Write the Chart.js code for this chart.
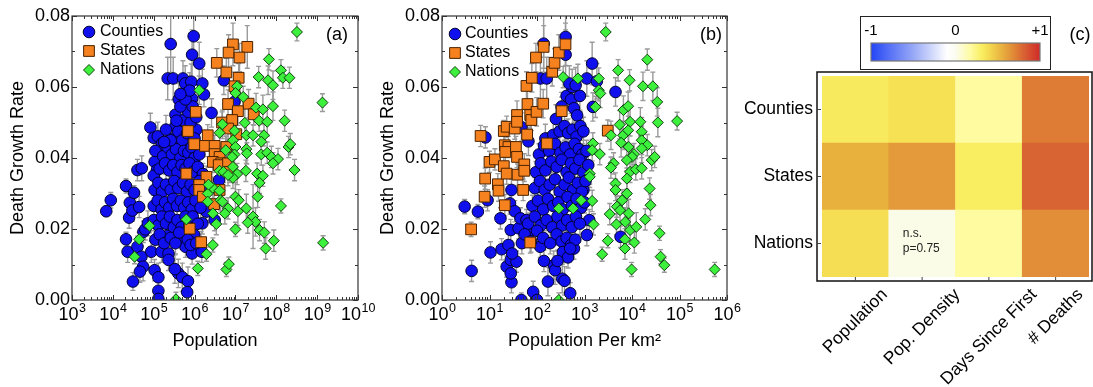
<!DOCTYPE html>
<html>
<head>
<meta charset="utf-8">
<script src="https://cdn.jsdelivr.net/npm/chart.js@4.4.0/dist/chart.umd.min.js"></script>
<style>
  body { margin: 0; background: #fff; width: 1093px; height: 387px; overflow: hidden; position: relative; }
  canvas { position: absolute; top: 0; }
  #cbarBox { position: absolute; left: 860px; top: 16px; width: 189px; height: 52px; border: 1px solid #222; }
</style>
</head>
<body>
<canvas id="chartPop" width="380" height="387" style="left:0"></canvas>
<canvas id="chartDens" width="375" height="387" style="left:370px"></canvas>
<canvas id="chartCorr" width="353" height="387" style="left:740px"></canvas>
<div id="cbarBox"><canvas id="cbar" width="189" height="52" style="left:0"></canvas></div>
<script>
// ---- data: [x, death growth rate, error] ----
// panel (a): population
var countiesPop = [
  [6.9e3,0.0250,0.0015],[8.9e3,0.0281,0.0022],[2.1e4,0.0321,0.002],[2.6e4,0.0274,0.0025],[3.3e4,0.0302,0.002],
  [2.5e4,0.0232,0.003],[3.0e4,0.0252,0.003],[4.4e4,0.0262,0.003],[4.0e4,0.0366,0.003],[5.1e4,0.0371,0.0035],
  [2.1e4,0.0171,0.002],[2.3e4,0.0136,0.003],[3.1e4,0.0052,0.0025],[4.0e4,0.0150,0.003],[5.0e4,0.0122,0.003],
  [5.5e4,0.0094,0.004],[4.6e4,0.0080,0.003],[5.6e4,0.0192,0.003],[6.2e4,0.0199,0.003],[7.2e4,0.0216,0.0035],
  [8.7e4,0.0136,0.003],[8.3e4,0.0486,0.004],[1.0e5,0.0457,0.004],[1.26e5,0.0461,0.004],[1.6e5,0.0441,0.0035],
  [1.05e5,0.0389,0.003],[1.2e5,0.0366,0.003],[1.45e5,0.0417,0.003],[1.05e5,0.0084,0.003],[1.3e5,0.0064,0.004],
  [1.3e5,0.0026,0.003],[1.3e5,0.0003,0.002],[1.55e5,0.0136,0.003],[2.3e5,0.0131,0.003],[2.3e5,0.0113,0.003],
  [2.2e5,0.0181,0.003],
  [2.6e5,0.0721,0.008],[2.2e5,0.0624,0.006],[3.0e5,0.0624,0.006],[3.4e5,0.0490,0.004],[3.4e5,0.0522,0.0045],
  [4.1e5,0.0565,0.0045],[5.2e5,0.0624,0.005],[5.9e5,0.0610,0.005],[6.6e5,0.0584,0.004],[8.3e5,0.0615,0.005],
  [8.7e5,0.0567,0.004],[9.5e5,0.0743,0.008],[8.7e5,0.0691,0.007],[1.3e6,0.0666,0.006],[1.55e6,0.0610,0.004],
  [1.7e6,0.0579,0.0035],[2.6e6,0.0527,0.004],[5.2e6,0.0619,0.004],[9.5e6,0.0558,0.004],[1.1e6,0.0480,0.004],
  [5.2e5,0.0506,0.004],
  [4.0e5,0.0075,0.004],[5.0e5,0.0064,0.004],[6.9e5,0.0053,0.004],[6.6e5,0.0022,0.003],[3.3e5,0.0087,0.004],
  [4.8e5,0.0174,0.003],[6.0e5,0.0150,0.003],[8.7e5,0.0131,0.003],[9.8e5,0.0183,0.003],[1.55e6,0.0216,0.003],
  [1.5e6,0.0136,0.003],[1.95e6,0.0249,0.003],[3.1e6,0.0225,0.003],[4.0e6,0.0338,0.003],
  [3.0e5,0.0455,0.004],[4.0e5,0.0475,0.004],[5.0e5,0.0450,0.004],[6.5e5,0.0470,0.004],[8.0e5,0.0500,0.004],
  [1.0e6,0.0455,0.004],[7.0e5,0.0530,0.004],[4.5e5,0.0545,0.004],[1.2e6,0.0435,0.003],[3.6e5,0.0505,0.004],
  [1.1e5,0.0420,0.003],[1.7e5,0.0405,0.003],[2.2e5,0.0430,0.003],[2.8e5,0.0410,0.003],[3.5e5,0.0425,0.003],
  [4.5e5,0.0400,0.003],[5.5e5,0.0420,0.003],[7.0e5,0.0415,0.003],[8.5e5,0.0430,0.003],[1.0e6,0.0400,0.003],
  [1.3e6,0.0410,0.003],
  [1.0e5,0.0350,0.003],[1.4e5,0.0370,0.003],[1.9e5,0.0385,0.003],[2.4e5,0.0365,0.003],[3.0e5,0.0380,0.003],
  [3.8e5,0.0360,0.003],[4.8e5,0.0380,0.003],[6.0e5,0.0370,0.003],[7.5e5,0.0385,0.003],[9.0e5,0.0360,0.003],
  [1.2e6,0.0375,0.003],[1.6e6,0.0355,0.003],
  [1.05e5,0.0310,0.003],[1.3e5,0.0330,0.003],[1.6e5,0.0305,0.003],[2.0e5,0.0325,0.003],[2.6e5,0.0310,0.003],
  [3.2e5,0.0335,0.003],[4.0e5,0.0315,0.003],[5.2e5,0.0330,0.003],[6.5e5,0.0305,0.003],[8.0e5,0.0325,0.003],
  [1.0e6,0.0310,0.003],[1.3e6,0.0335,0.003],[1.7e6,0.0305,0.003],
  [1.0e5,0.0265,0.003],[1.25e5,0.0280,0.003],[1.55e5,0.0255,0.003],[1.9e5,0.0275,0.003],[2.4e5,0.0260,0.003],
  [3.0e5,0.0285,0.003],[3.7e5,0.0265,0.003],[4.6e5,0.0280,0.003],[5.6e5,0.0260,0.003],[7.0e5,0.0275,0.003],
  [8.5e5,0.0255,0.003],[1.05e6,0.0280,0.003],[1.4e6,0.0260,0.003],
  [1.0e5,0.0225,0.003],[1.3e5,0.0210,0.003],[1.6e5,0.0235,0.003],[2.0e5,0.0215,0.003],[2.5e5,0.0235,0.003],
  [3.1e5,0.0205,0.003],[3.8e5,0.0225,0.003],[4.8e5,0.0205,0.003],[6.0e5,0.0235,0.003],[7.5e5,0.0210,0.003],
  [9.0e5,0.0235,0.003],[1.2e6,0.0215,0.003],
  [1.1e5,0.0170,0.003],[1.4e5,0.0185,0.003],[1.8e5,0.0160,0.003],[2.6e5,0.0175,0.003],[3.4e5,0.0160,0.003],
  [4.2e5,0.0190,0.003],[6.8e5,0.0170,0.003],[8.0e5,0.0155,0.003],[1.1e6,0.0160,0.003],
  [2.0e5,0.0480,0.004],[2.6e5,0.0450,0.004],[1.8e5,0.0445,0.004],[9.0e5,0.0545,0.004],[1.1e6,0.0515,0.004],
  [6.0e5,0.0565,0.004],[7.6e5,0.0590,0.005],[4.5e5,0.0580,0.004]
];
var statesPop = [
  [8.7e6,0.0720,0.006],[6.8e6,0.0697,0.005],[1.95e7,0.0713,0.006],[1.26e7,0.0683,0.004],[3.5e6,0.0668,0.004],
  [6.0e6,0.0641,0.004],[1.2e7,0.0626,0.004],[9.5e6,0.0602,0.004],[6.6e6,0.0552,0.004],[2.1e7,0.0553,0.004],
  [1.15e7,0.0532,0.004],[2.8e7,0.0523,0.003],[1.07e6,0.0530,0.004],[4.7e6,0.0500,0.003],[8.3e6,0.0507,0.003],
  [6.6e6,0.0483,0.003],[6.9e5,0.0476,0.004],[2.1e6,0.0464,0.003],[1.05e7,0.0467,0.003],[9.8e5,0.0439,0.003],
  [1.8e6,0.0434,0.003],[3.1e6,0.0434,0.003],[6.0e6,0.0431,0.003],[3.1e6,0.0411,0.003],[4.1e6,0.0403,0.003],
  [2.8e6,0.0389,0.003],[4.5e6,0.0385,0.003],[3.9e6,0.0380,0.003],[6.6e6,0.0385,0.003],[6.3e5,0.0356,0.003],
  [1.95e6,0.0347,0.003],[1.3e6,0.0324,0.003],[1.3e6,0.0310,0.003],[1.6e6,0.0291,0.003],[4.1e6,0.0310,0.003],
  [3.0e6,0.0270,0.003],[7.6e5,0.0201,0.003],[1.45e6,0.0163,0.003],[7.2e6,0.0361,0.003]
];
var nationsPop = [
  [3.2e8,0.0755,0.0025],[6.6e7,0.0678,0.003],[1.3e8,0.0647,0.003],[3.7e7,0.0628,0.003],[6.3e7,0.0619,0.004],
  [8.3e7,0.0605,0.004],[1.45e8,0.0626,0.003],[2.1e8,0.0626,0.003],[1.3e6,0.0591,0.004],[1.1e7,0.0602,0.004],
  [1.0e7,0.0583,0.003],[1.55e7,0.0572,0.003],[1.35e9,0.0556,0.0025],[3.2e7,0.0542,0.004],[4.7e7,0.0537,0.004],
  [8.3e7,0.0546,0.004],[4.8e6,0.0495,0.004],[1.7e7,0.0499,0.004],[3.8e7,0.0505,0.003],[6.0e7,0.0502,0.004],
  [1.6e8,0.0505,0.003],[9.5e6,0.0477,0.004],[4.1e6,0.0471,0.004],[1.85e7,0.0464,0.004],[2.7e7,0.0464,0.003],
  [5.0e7,0.0464,0.003],[8.7e6,0.0450,0.003],[4.3e7,0.0446,0.003],[1.0e7,0.0431,0.003],[1.85e7,0.0425,0.004],
  [2.0e8,0.0431,0.003],[2.2e8,0.0439,0.003],[5.8e6,0.0422,0.004],[1.9e7,0.0413,0.003],[4.3e7,0.0410,0.003],
  [6.0e7,0.0415,0.003],[7.6e7,0.0403,0.003],[1.1e8,0.0397,0.003],[8.3e7,0.0385,0.003],[2.8e8,0.0366,0.003],
  [9.5e6,0.0410,0.003],[8.3e6,0.0403,0.003],[8.7e6,0.0375,0.003],[1.1e7,0.0355,0.003],[1.8e7,0.0364,0.003],
  [3.4e7,0.0356,0.003],[4.7e7,0.0350,0.003],[8.7e6,0.0344,0.003],[4.1e6,0.0364,0.003],[5.1e6,0.0361,0.003],
  [6.6e6,0.0352,0.003],[3.9e7,0.0330,0.003],[2.1e6,0.0300,0.003],[2.8e6,0.0316,0.003],[4.1e6,0.0308,0.003],
  [4.3e6,0.0281,0.003],[2.1e6,0.0277,0.003],[4.8e6,0.0277,0.003],[3.5e7,0.0291,0.003],[1.0e7,0.0291,0.004],
  [1.2e7,0.0281,0.003],[1.3e8,0.0265,0.002],[1.85e7,0.0258,0.004],[6.6e6,0.0258,0.003],[1.15e7,0.0250,0.004],
  [2.8e6,0.0244,0.003],[5.5e6,0.0244,0.003],[3.4e6,0.0214,0.003],[2.7e7,0.0235,0.009],[3.1e7,0.0220,0.004],
  [2.0e7,0.0218,0.003],[1.0e7,0.0199,0.002],[3.9e7,0.0197,0.003],[5.1e7,0.0190,0.003],[8.7e7,0.0167,0.003],
  [5.5e7,0.0145,0.003],[1.4e9,0.0161,0.002],[2.8e6,0.0155,0.002],[1.95e6,0.0129,0.002],[1.2e6,0.0089,0.002],
  [6.0e6,0.0086,0.002],[6.9e6,0.0101,0.002],[6.3e5,0.0227,0.002],[7.9e4,0.0209,0.002],[4.4e4,0.0171,0.002],
  [3.4e4,0.0122,0.002],[3.5e5,0.0002,0.002],[2.2e6,0.0325,0.003]
];
// panel (b): population per km2
var countiesDens = [
  [3.0,0.0263,0.002],[5.7,0.0249,0.002],[8.2,0.0458,0.003],[9.1,0.0281,0.003],[4.2,0.0082,0.003],
  [10.5,0.0134,0.003],[17,0.0230,0.003],[18,0.0143,0.003],[23,0.0094,0.003],[29,0.0050,0.003],
  [28,0.0113,0.003],[37,0.0108,0.003],[47,0.0000,0.002],[83,0.0023,0.003],[100,0.0000,0.002],
  [170,0.0052,0.004],[340,0.0060,0.004],[500,0.0019,0.003],[400,0.0741,0.008],[400,0.0691,0.007],
  [138,0.0722,0.008],[118,0.0624,0.006],[160,0.0624,0.006],[1450,0.0666,0.006],[1120,0.0624,0.005],
  [1820,0.0616,0.005],[1500,0.0544,0.004],[4500,0.0586,0.004],[1120,0.0183,0.003],[1260,0.0225,0.003],
  [5750,0.0178,0.003],[950,0.0310,0.003],
  [25,0.0155,0.003],[28,0.0075,0.003],[30,0.0131,0.003],[48,0.0160,0.003],[28,0.0197,0.003],
  [41,0.0202,0.003],[66,0.0188,0.003],[117,0.0150,0.003],[225,0.0098,0.004],[240,0.0084,0.004],
  [380,0.0054,0.004],[400,0.0150,0.003],[480,0.0138,0.003],[27,0.0272,0.003],[34,0.0250,0.003],
  [29,0.0310,0.003],[45,0.0230,0.003],[60,0.0225,0.003],[140,0.0110,0.003],[47,0.0487,0.004],[66,0.0447,0.004],
  [250,0.0510,0.004],[330,0.0545,0.004],[420,0.0575,0.004],[520,0.0565,0.004],[600,0.0540,0.004],
  [700,0.0520,0.004],[550,0.0600,0.005],[800,0.0575,0.004],[480,0.0610,0.005],[650,0.0605,0.005],
  [150,0.0455,0.004],[220,0.0465,0.004],[300,0.0475,0.004],[380,0.0490,0.004],[450,0.0470,0.004],
  [560,0.0480,0.004],[680,0.0460,0.004],[820,0.0490,0.004],[950,0.0475,0.004],
  [110,0.0410,0.003],[140,0.0435,0.003],[180,0.0420,0.003],[240,0.0440,0.003],[310,0.0415,0.003],
  [400,0.0430,0.003],[500,0.0410,0.003],[620,0.0440,0.003],[760,0.0425,0.003],[900,0.0410,0.003],[1100,0.0420,0.003],
  [95,0.0360,0.003],[120,0.0385,0.003],[150,0.0365,0.003],[200,0.0390,0.003],[260,0.0375,0.003],
  [330,0.0395,0.003],[420,0.0360,0.003],[520,0.0385,0.003],[640,0.0370,0.003],[780,0.0395,0.003],
  [950,0.0360,0.003],[1200,0.0380,0.003],
  [90,0.0315,0.003],[115,0.0335,0.003],[145,0.0310,0.003],[185,0.0325,0.003],[240,0.0340,0.003],
  [300,0.0305,0.003],[380,0.0325,0.003],[470,0.0345,0.003],[580,0.0310,0.003],[720,0.0330,0.003],
  [880,0.0305,0.003],[1050,0.0335,0.003],
  [80,0.0265,0.003],[105,0.0280,0.003],[135,0.0255,0.003],[170,0.0285,0.003],[220,0.0265,0.003],
  [280,0.0275,0.003],[350,0.0255,0.003],[440,0.0290,0.003],[540,0.0265,0.003],[680,0.0285,0.003],
  [850,0.0260,0.003],[1000,0.0275,0.003],
  [65,0.0215,0.003],[90,0.0235,0.003],[120,0.0210,0.003],[160,0.0225,0.003],[210,0.0205,0.003],
  [270,0.0235,0.003],[340,0.0210,0.003],[430,0.0225,0.003],[540,0.0205,0.003],[660,0.0235,0.003],[800,0.0215,0.003],
  [55,0.0185,0.003],[75,0.0165,0.003],[100,0.0195,0.003],[135,0.0175,0.003],[190,0.0160,0.003],
  [260,0.0185,0.003],[330,0.0165,0.003],[420,0.0175,0.003],[520,0.0155,0.003],[600,0.0145,0.003],[640,0.0170,0.003],
  [350,0.0135,0.003],[450,0.0120,0.003],[270,0.0110,0.003],[500,0.0145,0.003]
];
var statesDens = [
  [6.5,0.0462,0.003],[8.1,0.0342,0.003],[7.9,0.0291,0.003],[4.1,0.0199,0.002],[10,0.0389,0.003],
  [13,0.0396,0.003],[15,0.0326,0.003],[15.5,0.0308,0.003],[20,0.0476,0.003],[21,0.0267,0.003],
  [20,0.0377,0.003],[23,0.0356,0.003],[23,0.0488,0.003],[21,0.0436,0.003],[25,0.0431,0.003],
  [21.5,0.0417,0.003],[34,0.0483,0.003],[38,0.0521,0.004],[38,0.0502,0.003],[36,0.0431,0.003],
  [38,0.0403,0.003],[39,0.0353,0.003],[54,0.0382,0.003],[54,0.0364,0.003],[51,0.0310,0.003],
  [62,0.0466,0.003],[63,0.0552,0.004],[72,0.0521,0.004],[76,0.0507,0.003],[60,0.0603,0.004],
  [78,0.0626,0.004],[95,0.0683,0.004],[98,0.0530,0.004],[135,0.0553,0.004],[138,0.0713,0.006],
  [209,0.0643,0.004],[234,0.0668,0.004],[288,0.0697,0.005],[398,0.0720,0.006],[162,0.0441,0.003],
  [331,0.0532,0.004],[72,0.0162,0.003],[3090,0.0477,0.003]
];
var nationsDens = [
  [2800,0.0755,0.0025],[2.1e4,0.0677,0.003],[5100,0.0647,0.003],[355,0.0628,0.003],[725,0.0624,0.004],
  [2000,0.0624,0.003],[8900,0.0619,0.003],[1.7e4,0.0602,0.004],[2.75e4,0.0602,0.004],[2000,0.0591,0.003],
  [2150,0.0582,0.004],[1700,0.0544,0.003],[6600,0.0535,0.004],[8300,0.0546,0.004],[9100,0.0502,0.004],
  [1.5e4,0.0502,0.004],[3.5e4,0.0500,0.004],[8.9e4,0.0504,0.0025],[3.4e4,0.0558,0.004],[5500,0.0494,0.004],
  [3600,0.0464,0.004],[6500,0.0464,0.004],[8300,0.0478,0.004],[5900,0.0443,0.004],[8500,0.0431,0.004],
  [1.6e4,0.0474,0.004],[1.6e4,0.0450,0.004],[2.1e4,0.0436,0.003],[1.6e4,0.0427,0.004],[1.1e4,0.0411,0.003],
  [1.0e4,0.0403,0.003],[7800,0.0394,0.003],[2.6e4,0.0394,0.003],[3.0e4,0.0403,0.003],[4100,0.0385,0.003],
  [3600,0.0373,0.003],[9100,0.0361,0.003],[1.2e4,0.0368,0.003],[1.6e4,0.0371,0.003],[7800,0.0342,0.003],
  [4500,0.0328,0.003],[4500,0.0310,0.003],[6200,0.0281,0.003],[7800,0.0300,0.004],[2.35e4,0.0314,0.003],
  [2.45e4,0.0267,0.003],[4800,0.0263,0.003],[5600,0.0253,0.004],[8500,0.0244,0.004],[3400,0.0242,0.003],
  [7200,0.0220,0.004],[4700,0.0213,0.003],[9100,0.0197,0.004],[1.23e4,0.0206,0.004],[1.9e4,0.0227,0.003],
  [3.8e4,0.0188,0.002],[3100,0.0167,0.002],[7100,0.0171,0.003],[1.12e4,0.0162,0.003],[7100,0.0145,0.003],
  [2350,0.0129,0.002],[9800,0.0086,0.002],[4.0e4,0.0122,0.002],[4.8e4,0.0098,0.002],[5.5e5,0.0086,0.002],
  [1500,0.0441,0.003],[1450,0.0422,0.003],[2100,0.0411,0.003],[1290,0.0356,0.003],[1290,0.0347,0.003],
  [1450,0.0279,0.003],[1550,0.0213,0.003],[288,0.0000,0.002],[288,0.0258,0.002],[575,0.0258,0.003],
  [850,0.0281,0.003]
];

// panel (c): correlation with death growth rate
var heatCols = ['Population', 'Pop. Density', 'Days Since First', '# Deaths'];
var heatRows = ['Counties', 'States', 'Nations'];
var corrCounties = [0.33, 0.37, 0.18, 0.73];
var corrStates = [0.55, 0.63, 0.31, 0.80];
var corrNations = [0.38, 0.02, 0.18, 0.67];
var nsCell = { row: 2, col: 1, p: 0.75 };
// colour scale
var corrStops = [[-1,'#2446f5'],[-0.5,'#97a8f7'],[-0.1,'#ffffff'],[0,'#fbfcf0'],[0.18,'#fefba0'],
  [0.31,'#f9ee62'],[0.37,'#f6e155'],[0.55,'#e8b13e'],[0.63,'#e49a3a'],[0.73,'#de7b34'],[0.8,'#d96433'],[1,'#d02a28']];

var FONT = '"Liberation Sans", Arial, Helvetica, sans-serif';
Chart.defaults.font.family = FONT;
Chart.defaults.font.size = 18;
Chart.defaults.color = '#000';

function hexRgb(h) { return [1, 3, 5].map(function (i) { return parseInt(h.substr(i, 2), 16); }); }
function corrColor(v) {
  for (var i = 1; i < corrStops.length; i++) {
    if (v <= corrStops[i][0]) {
      var a = hexRgb(corrStops[i - 1][1]), b = hexRgb(corrStops[i][1]);
      var t = (v - corrStops[i - 1][0]) / (corrStops[i][0] - corrStops[i - 1][0]);
      return 'rgb(' + a.map(function (x, k) { return Math.round(x + (b[k] - x) * t); }).join(',') + ')';
    }
  }
  return corrStops[corrStops.length - 1][1];
}

// exponent of a power of ten, or null for the minor ticks
function decade(v) {
  var e = Math.log10(v), r = Math.round(e);
  return Math.abs(e - r) > 1e-6 ? null : r;
}

function drawMarker(ctx, ds, x, y) {
  var r = ds.pointRadius;
  ctx.fillStyle = ds.backgroundColor; ctx.strokeStyle = ds.borderColor; ctx.lineWidth = ds.borderWidth;
  ctx.beginPath();
  if (ds.pointStyle === 'circle') ctx.arc(x, y, r, 0, 2 * Math.PI);
  else if (ds.pointStyle === 'rect') { var s = r * Math.SQRT1_2; ctx.rect(x - s, y - s, 2 * s, 2 * s); }
  else { ctx.moveTo(x - r, y); ctx.lineTo(x, y - r); ctx.lineTo(x + r, y); ctx.lineTo(x, y + r); ctx.closePath(); }
  ctx.fill(); ctx.stroke();
}

// grey error bars behind the markers
var errorBars = {
  id: 'errorBars',
  beforeDatasetsDraw: function (chart) {
    var ctx = chart.ctx, a = chart.chartArea, x = chart.scales.x, y = chart.scales.y;
    ctx.save();
    ctx.beginPath(); ctx.rect(a.left, a.top, a.right - a.left, a.bottom - a.top); ctx.clip();
    ctx.strokeStyle = '#9a9a9a'; ctx.lineWidth = 1.4;
    chart.data.datasets.forEach(function (ds) {
      ds.data.forEach(function (p, i) {
        var e = ds.errors[i];
        var px = x.getPixelForValue(p.x), y1 = y.getPixelForValue(p.y - e), y2 = y.getPixelForValue(p.y + e);
        ctx.beginPath();
        ctx.moveTo(px, y1); ctx.lineTo(px, y2);
        ctx.moveTo(px - 2.5, y1); ctx.lineTo(px + 2.5, y1);
        ctx.moveTo(px - 2.5, y2); ctx.lineTo(px + 2.5, y2);
        ctx.stroke();
      });
    });
    ctx.restore();
  }
};

// box with inward ticks, 10^n labels, legend and panel tag
var panelDeco = {
  id: 'panelDeco',
  afterDraw: function (chart, args, o) {
    var ctx = chart.ctx, a = chart.chartArea, x = chart.scales.x, y = chart.scales.y;
    ctx.save();
    ctx.strokeStyle = '#333'; ctx.lineWidth = 1.2;
    ctx.strokeRect(a.left, a.top, a.right - a.left, a.bottom - a.top);
    ctx.lineWidth = 1;
    ctx.beginPath();
    x.ticks.forEach(function (t) {
      var px = Math.round(x.getPixelForValue(t.value)) + 0.5;
      var len = decade(t.value) === null ? 3 : 5;
      ctx.moveTo(px, a.bottom); ctx.lineTo(px, a.bottom - len);
      ctx.moveTo(px, a.top); ctx.lineTo(px, a.top + len);
    });
    y.ticks.forEach(function (t) {
      var py = Math.round(y.getPixelForValue(t.value)) + 0.5;
      var len = Math.round(t.value * 100) % 2 ? 3 : 5;
      ctx.moveTo(a.left, py); ctx.lineTo(a.left + len, py);
      ctx.moveTo(a.right, py); ctx.lineTo(a.right - len, py);
    });
    ctx.stroke();

    // 10 with a raised exponent under each decade tick
    ctx.fillStyle = '#000'; ctx.textAlign = 'left'; ctx.textBaseline = 'alphabetic';
    x.ticks.forEach(function (t) {
      var e = decade(t.value);
      if (e === null) return;
      ctx.font = '18px ' + FONT; var w1 = ctx.measureText('10').width;
      ctx.font = '12.5px ' + FONT; var w2 = ctx.measureText(String(e)).width;
      var left = x.getPixelForValue(t.value) - (w1 + w2) / 2;
      ctx.font = '18px ' + FONT; ctx.fillText('10', left, a.bottom + 20);
      ctx.font = '12.5px ' + FONT; ctx.fillText(String(e), left + w1 + 0.5, a.bottom + 12);
    });

    ctx.font = '16px ' + FONT;
    ctx.textBaseline = 'middle';
    chart.data.datasets.forEach(function (ds, i) {
      var cy = a.top + o.my + i * 19;
      drawMarker(ctx, ds, a.left + o.mx, cy);
      ctx.fillStyle = '#000'; ctx.textAlign = 'left';
      ctx.fillText(ds.label, a.left + o.tx, cy);
    });
    ctx.font = '18px ' + FONT;
    ctx.textAlign = 'right'; ctx.fillStyle = '#000';
    ctx.fillText(o.tag, a.right - o.tagPad, a.top + 19);
    ctx.restore();
  }
};

function series(label, rows, style, order) {
  return Object.assign({
    label: label,
    data: rows.map(function (r) { return { x: r[0], y: r[1] }; }),
    errors: rows.map(function (r) { return r[2]; }),
    order: order,
    clip: 0
  }, style);
}
var countyStyle = { pointStyle: 'circle', pointRadius: 5.8, backgroundColor: '#1010ee', borderColor: '#000030', borderWidth: 1 };
var stateStyle = { pointStyle: 'rect', pointRadius: 7.6, backgroundColor: '#f5821f', borderColor: '#4a2200', borderWidth: 1 };
var nationStyle = { pointStyle: 'rectRot', pointRadius: 5.5, backgroundColor: '#3cf03c', borderColor: '#104010', borderWidth: 1 };

function scatterPanel(id, cfg) {
  return new Chart(document.getElementById(id), {
    type: 'scatter',
    data: { datasets: [
      series('Counties', cfg.counties, countyStyle, 3),
      series('States', cfg.states, stateStyle, 2),
      series('Nations', cfg.nations, nationStyle, 1)
    ] },
    options: {
      responsive: false,
      animation: false,
      events: [],
      layout: { padding: { left: 0, top: 16, right: cfg.padRight, bottom: 0 } },
      plugins: {
        legend: { display: false },
        tooltip: { enabled: false },
        panelDeco: cfg.deco
      },
      scales: {
        x: {
          type: 'logarithmic',
          min: Math.pow(10, cfg.lo), max: Math.pow(10, cfg.hi),
          afterBuildTicks: function (s) {
            var t = [];
            for (var e = cfg.lo; e < cfg.hi; e++) for (var m = 1; m < 10; m++) t.push({ value: m * Math.pow(10, e) });
            t.push({ value: Math.pow(10, cfg.hi) });
            s.ticks = t;
          },
          afterFit: function (s) { s.height = 87; s.paddingLeft = 0; s.paddingRight = 0; },
          ticks: { display: false, autoSkip: false, maxRotation: 0, minRotation: 0 },
          grid: { display: false, drawTicks: false },
          border: { display: false },
          title: { display: true, text: cfg.xTitle, padding: { top: 0, bottom: 35 } }
        },
        y: {
          min: 0, max: 0.08,
          afterBuildTicks: function (s) {
            s.ticks = [0, 1, 2, 3, 4, 5, 6, 7, 8].map(function (i) { return { value: i / 100 }; });
          },
          afterFit: function (s) { s.width = 72; s.paddingTop = 0; s.paddingBottom = 0; },
          ticks: { autoSkip: false, padding: 2, callback: function (v) { return Math.round(v * 100) % 2 ? '' : v.toFixed(2); } },
          grid: { display: false, drawTicks: false },
          border: { display: false },
          title: { display: true, text: 'Death Growth Rate', padding: { top: 7, bottom: 0 } }
        }
      }
    },
    plugins: [errorBars, panelDeco]
  });
}

scatterPanel('chartPop', {
  counties: countiesPop, states: statesPop, nations: nationsPop,
  lo: 3, hi: 10, padRight: 22, xTitle: 'Population',
  deco: { mx: 17, my: 16, tx: 28, tag: '(a)', tagPad: 10 }
});
scatterPanel('chartDens', {
  counties: countiesDens, states: statesDens, nations: nationsDens,
  lo: 0, hi: 6, padRight: 18, xTitle: 'Population Per km²',
  deco: { mx: 13, my: 18, tx: 23, tag: '(b)', tagPad: 5 }
});

// ---- heat map ----
var corrByRow = [corrCounties, corrStates, corrNations];
var heatSets = heatRows.map(function (row, r) {
  return {
    label: row,
    data: heatCols.map(function () { return 1; }),
    backgroundColor: corrByRow[r].map(corrColor),
    stack: 'grid', barPercentage: 1, categoryPercentage: 1, borderWidth: 0
  };
}).reverse();

var heatDeco = {
  id: 'heatDeco',
  afterDraw: function (chart) {
    var ctx = chart.ctx, a = chart.chartArea, x = chart.scales.x, y = chart.scales.y;
    var L = a.left - 5, R = a.right + 3, T = a.top - 4, B = a.bottom + 4;
    ctx.save();
    ctx.strokeStyle = '#111'; ctx.lineWidth = 1.5;
    ctx.strokeRect(L, T, R - L, B - T);
    ctx.strokeStyle = '#444'; ctx.lineWidth = 1;
    ctx.beginPath();
    y.ticks.forEach(function (t) { var py = y.getPixelForValue(t.value); ctx.moveTo(L, py); ctx.lineTo(L + 4, py); });
    x.ticks.forEach(function (t, i) { var px = x.getPixelForTick(i); ctx.moveTo(px, B); ctx.lineTo(px, B - 4); });
    ctx.stroke();

    ctx.fillStyle = '#000';
    ctx.font = '17.5px ' + FONT;
    ctx.textAlign = 'center'; ctx.textBaseline = 'middle';
    x.ticks.forEach(function (t, i) {
      var label = heatCols[i];
      var h = ctx.measureText(label).width / 2 * Math.SQRT1_2;
      ctx.save();
      ctx.translate(x.getPixelForTick(i), a.bottom + 15 + h);
      ctx.rotate(-Math.PI / 4);
      ctx.fillText(label, 0, 0);
      ctx.restore();
    });

    var band = (a.right - a.left) / heatCols.length;
    var nx = x.getPixelForValue(nsCell.col) - band / 2 + 14;
    var ny = y.getPixelForValue(heatRows.length - nsCell.row - 0.5);
    ctx.font = '12px ' + FONT; ctx.textAlign = 'left'; ctx.fillStyle = '#222';
    ctx.fillText('n.s.', nx, ny - 10);
    ctx.fillText('p=' + nsCell.p.toFixed(2), nx, ny + 5);

    ctx.font = '18px ' + FONT; ctx.textAlign = 'center'; ctx.fillStyle = '#000';
    ctx.fillText('(c)', a.right - 9, a.top - 41);
    ctx.restore();
  }
};

new Chart(document.getElementById('chartCorr'), {
  type: 'bar',
  data: { labels: heatCols, datasets: heatSets },
  options: {
    responsive: false,
    animation: false,
    events: [],
    layout: { padding: { left: 0, top: 76, right: 4, bottom: 0 } },
    plugins: { legend: { display: false }, tooltip: { enabled: false } },
    scales: {
      x: {
        stacked: true,
        afterFit: function (s) { s.height = 110; s.paddingLeft = 0; s.paddingRight = 0; },
        ticks: { display: false },
        grid: { display: false, drawTicks: false },
        border: { display: false }
      },
      y: {
        stacked: true, min: 0, max: heatRows.length,
        afterBuildTicks: function (s) { s.ticks = [0.5, 1.5, 2.5].map(function (v) { return { value: v }; }); },
        afterFit: function (s) { s.width = 82; s.paddingTop = 0; s.paddingBottom = 0; },
        ticks: { padding: 9, autoSkip: false, font: { size: 17.5 }, callback: function (v) { return heatRows[heatRows.length - 1 - Math.floor(v)]; } },
        grid: { display: false, drawTicks: false },
        border: { display: false }
      }
    }
  },
  plugins: [heatDeco]
});

// ---- colour bar ----
var gradientBar = {
  id: 'gradientBar',
  beforeDatasetsDraw: function (chart) {
    var ctx = chart.ctx, a = chart.chartArea;
    var g = ctx.createLinearGradient(a.left, 0, a.right, 0);
    corrStops.forEach(function (s) { g.addColorStop((s[0] + 1) / 2, s[1]); });
    ctx.save();
    ctx.fillStyle = g;
    ctx.fillRect(a.left, a.top, a.right - a.left, a.bottom - a.top);
    ctx.strokeStyle = '#777'; ctx.lineWidth = 1.2;
    ctx.strokeRect(a.left, a.top, a.right - a.left, a.bottom - a.top);
    ctx.restore();
  }
};

new Chart(document.getElementById('cbar'), {
  type: 'scatter',
  data: { datasets: [] },
  options: {
    responsive: false,
    animation: false,
    events: [],
    layout: { padding: { left: 10, right: 10, top: 0, bottom: 8 } },
    plugins: { legend: { display: false }, tooltip: { enabled: false } },
    scales: {
      x: {
        type: 'linear', position: 'top', min: -1, max: 1,
        afterBuildTicks: function (s) { s.ticks = [-1, 0, 1].map(function (v) { return { value: v }; }); },
        afterFit: function (s) { s.height = 26; s.paddingLeft = 0; s.paddingRight = 0; },
        ticks: { padding: 3, font: { size: 15 }, callback: function (v) { return v > 0 ? '+' + v : String(v); } },
        grid: { display: false, drawTicks: false },
        border: { display: false }
      },
      y: { display: false, min: 0, max: 1 }
    }
  },
  plugins: [gradientBar]
});
</script>
</body>
</html>
